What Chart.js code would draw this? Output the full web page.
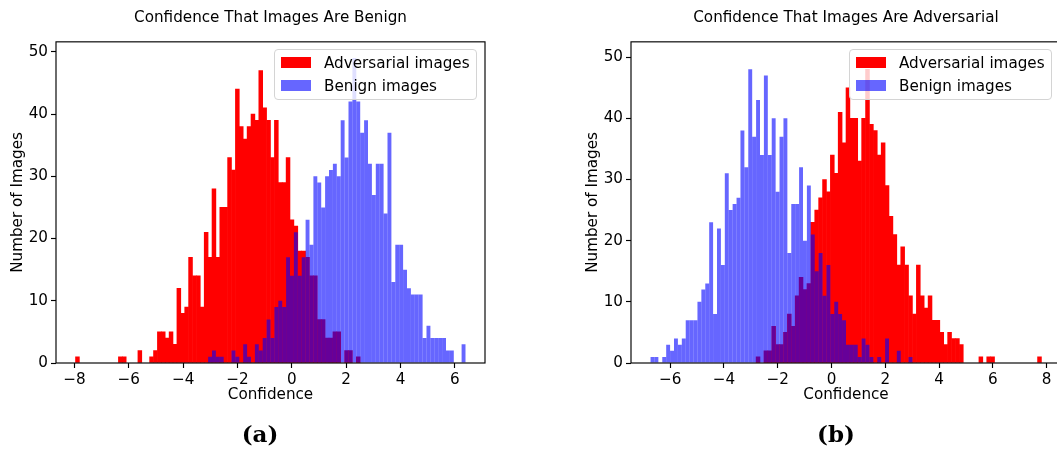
<!DOCTYPE html>
<html>
<head>
<meta charset="utf-8">
<script src="https://cdn.jsdelivr.net/npm/chart.js@4/dist/chart.umd.min.js"></script>
<style>
  html, body { margin: 0; padding: 0; background: #fff; }
  body { width: 1057px; height: 450px; overflow: hidden; position: relative; font-family: "DejaVu Sans", sans-serif; }
  canvas { position: absolute; top: 0; }
  #histA { left: 0; }
  #histB { left: 575px; }
  .legend { position: absolute; top: 49px; width: 203px; height: 51px; box-sizing: border-box;
            border: 1px solid #d4d4d4; border-radius: 4px; background: rgba(255,255,255,0.8); }
  .legend .swatch { position: absolute; left: 6px; width: 30px; height: 11px; }
  .legend .label { position: absolute; left: 49px; line-height: 20px; font-size: 15.2px; color: #000; white-space: nowrap; }
  .caption { position: absolute; top: 420px; line-height: 28px; transform: translateX(-50%);
             font-family: "DejaVu Serif", serif; font-weight: bold; font-size: 23px; color: #000; }
</style>
</head>
<body>
<canvas id="histA" width="530" height="450"></canvas>
<canvas id="histB" width="530" height="450"></canvas>
<div class="legend" id="legendA" style="left:274px"></div>
<div class="legend" id="legendB" style="left:849px"></div>
<div class="caption" style="left:260px">(a)</div>
<div class="caption" style="left:836px">(b)</div>
<script>
// Series names and panel titles
const seriesLabels = ['Adversarial images', 'Benign images'];
const titleA = 'Confidence That Images Are Benign';
const titleB = 'Confidence That Images Are Adversarial';

// Histogram bin ranges (100 equal bins shared by both series of a panel)
const binRangeA = [-7.96, 6.39];
const binRangeB = [-6.73, 7.81];

// Panel (a): counts per bin
const advCountsA = [
  1, 0, 0, 0, 0, 0, 0, 0, 0, 0,
  0, 1, 1, 0, 0, 0, 2, 0, 0, 1,
  2, 5, 5, 4, 5, 3, 12, 8, 9, 17,
  14, 14, 9, 21, 17, 28, 17, 25, 25, 33,
  31, 44, 38, 36, 38, 40, 39, 47, 41, 39,
  33, 39, 29, 29, 33, 23, 22, 18, 18, 17,
  14, 14, 7, 7, 4, 4, 5, 5, 0, 2,
  2, 0, 1, 0, 0, 0, 0, 0, 0, 0,
  0, 0, 0, 0, 0, 0, 0, 0, 0, 0,
  0, 0, 0, 0, 0, 0, 0, 0, 0, 0
];
const benignCountsA = [
  0, 0, 0, 0, 0, 0, 0, 0, 0, 0,
  0, 0, 0, 0, 0, 0, 0, 0, 0, 0,
  0, 0, 0, 0, 0, 0, 0, 0, 0, 0,
  0, 0, 0, 0, 1, 2, 1, 1, 0, 0,
  2, 1, 0, 3, 1, 0, 3, 2, 4, 7,
  4, 9, 10, 9, 17, 14, 21, 14, 17, 23,
  19, 30, 29, 25, 30, 31, 32, 30, 39, 33,
  42, 49, 42, 37, 39, 32, 27, 32, 32, 24,
  37, 13, 19, 19, 15, 12, 11, 11, 11, 4,
  6, 4, 4, 4, 4, 2, 2, 0, 0, 3
];

// Panel (b): counts per bin
const advCountsB = [
  0, 0, 0, 0, 0, 0, 0, 0, 0, 0,
  0, 0, 0, 0, 0, 0, 0, 0, 0, 0,
  0, 0, 0, 0, 0, 0, 0, 1, 0, 2,
  2, 6, 3, 3, 5, 8, 6, 11, 14, 12,
  13, 23, 25, 27, 30, 28, 34, 31, 41, 36,
  45, 40, 40, 33, 40, 48, 39, 38, 34, 36,
  29, 24, 21, 16, 19, 16, 11, 8, 16, 11,
  9, 11, 7, 7, 5, 3, 5, 4, 4, 3,
  0, 0, 0, 0, 1, 0, 1, 1, 0, 0,
  0, 0, 0, 0, 0, 0, 0, 0, 0, 1
];
const benignCountsB = [
  1, 1, 0, 1, 3, 2, 4, 3, 4, 7,
  7, 7, 10, 12, 13, 23, 8, 22, 16, 31,
  25, 26, 27, 38, 32, 48, 37, 43, 34, 47,
  34, 40, 28, 37, 40, 18, 26, 26, 32, 20,
  29, 21, 15, 18, 11, 16, 8, 10, 8, 7,
  3, 3, 3, 1, 4, 3, 1, 0, 1, 0,
  4, 0, 0, 2, 0, 0, 1, 0, 0, 0,
  0, 0, 0, 0, 0, 0, 0, 0, 0, 0,
  0, 0, 0, 0, 0, 0, 0, 0, 0, 0,
  0, 0, 0, 0, 0, 0, 0, 0, 0, 0
];

// Tick labels
const xTicksA = [-8, -6, -4, -2, 0, 2, 4, 6];
const xTicksB = [-6, -4, -2, 0, 2, 4, 6, 8];
const yTicks = [0, 10, 20, 30, 40, 50];

const seriesColors = ['#ff0000', 'rgba(0,0,255,0.6)'];
const FONT = 'DejaVu Sans';
const FONT_SIZE = 15.2;
Chart.defaults.font.family = FONT;
Chart.defaults.color = '#000';

const fmt = v => (v < 0 ? '\u2212' + Math.abs(v) : String(v));

// Four-sided axes frame drawn above the bars
const framePlugin = {
  id: 'frame',
  afterDatasetsDraw(chart) {
    const { ctx, chartArea: a } = chart;
    ctx.save();
    ctx.strokeStyle = '#000';
    ctx.lineWidth = 1.15;
    ctx.strokeRect(a.left, a.top, a.right - a.left, a.bottom - a.top);
    ctx.restore();
  }
};

function histogram(canvasId, title, range, adv, ben, xTicks, yMax, padRight) {
  const n = adv.length;
  const w = (range[1] - range[0]) / n;
  const centers = adv.map((_, i) => range[0] + (i + 0.5) * w);
  const margin = 0.05 * (range[1] - range[0]);
  // empty bins are left out so that nothing is drawn for them
  const points = counts => centers.map((x, i) => ({ x, y: counts[i] > 0 ? counts[i] : null }));
  const barOpts = { grouped: false, barPercentage: 1, categoryPercentage: 1, borderWidth: 0 };
  const tickFont = { family: FONT, size: FONT_SIZE };
  return new Chart(document.getElementById(canvasId), {
    type: 'bar',
    data: {
      datasets: [
        Object.assign({ label: seriesLabels[0], data: points(adv),
                        backgroundColor: seriesColors[0], order: 1, inflateAmount: 0.3 }, barOpts),
        Object.assign({ label: seriesLabels[1], data: points(ben),
                        backgroundColor: seriesColors[1], order: 0, inflateAmount: 0 }, barOpts)
      ]
    },
    options: {
      responsive: false,
      animation: false,
      devicePixelRatio: 1,
      events: [],
      layout: { padding: { left: 0, right: padRight, top: 0, bottom: 45.8 } },
      plugins: {
        legend: { display: false },
        tooltip: { enabled: false },
        title: {
          display: true, text: title, fullSize: false, color: '#000',
          font: { family: FONT, size: FONT_SIZE, weight: 'normal' },
          padding: { top: 8.6, bottom: 15.0 }
        }
      },
      scales: {
        x: {
          type: 'linear',
          min: range[0] - margin,
          max: range[1] + margin,
          offset: false,
          afterBuildTicks: s => { s.ticks = xTicks.map(v => ({ value: v })); },
          afterFit: s => { s.height = 41.2; },
          grid: { display: true, drawOnChartArea: false, drawTicks: true, tickLength: 5,
                  tickWidth: 1.15, tickColor: '#000', offset: false },
          border: { display: false },
          ticks: { color: '#000', font: tickFont, padding: 3, maxRotation: 0, autoSkip: false,
                   callback: v => fmt(v) },
          title: { display: true, text: 'Confidence', color: '#000', font: tickFont,
                   padding: { top: 0, bottom: 0 } }
        },
        y: {
          type: 'linear',
          min: 0,
          max: yMax,
          afterBuildTicks: s => { s.ticks = yTicks.map(v => ({ value: v })); },
          afterFit: s => { s.width = 56; },
          grid: { display: true, drawOnChartArea: false, drawTicks: true, tickLength: 5,
                  tickWidth: 1.15, tickColor: '#000' },
          border: { display: false },
          ticks: { color: '#000', font: tickFont, padding: 3, callback: v => fmt(v) },
          title: { display: true, text: 'Number of Images', color: '#000', font: tickFont,
                   padding: { top: 8.8, bottom: 0 } }
        }
      }
    },
    plugins: [framePlugin]
  });
}

function buildLegend(id) {
  const box = document.getElementById(id);
  const rows = [7, 30];
  seriesLabels.forEach((label, i) => {
    const sw = document.createElement('div');
    sw.className = 'swatch';
    sw.style.top = rows[i] + 'px';
    sw.style.background = seriesColors[i];
    const tx = document.createElement('div');
    tx.className = 'label';
    tx.style.top = (rows[i] - 4.5) + 'px';
    tx.textContent = label;
    box.appendChild(sw);
    box.appendChild(tx);
  });
}

histogram('histA', titleA, binRangeA, advCountsA, benignCountsA, xTicksA, 51.6, 45);
histogram('histB', titleB, binRangeB, advCountsB, benignCountsB, xTicksB, 52.5, 44);
buildLegend('legendA');
buildLegend('legendB');
</script>
</body>
</html>
